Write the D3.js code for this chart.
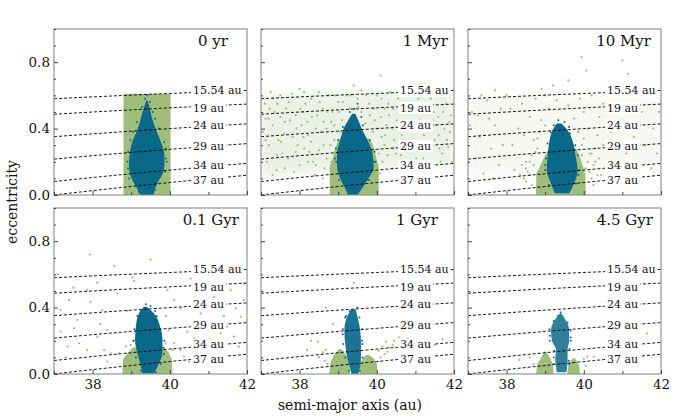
<!DOCTYPE html>
<html>
<head>
<meta charset="utf-8">
<script src="https://cdn.jsdelivr.net/npm/d3@7"></script>
<style>
  body { margin: 0; background: #fff; }
  text { font-family: "DejaVu Serif", serif; fill: #111; }
</style>
</head>
<body>
<svg id="chart" width="700" height="420"></svg>
<script>
// panel titles and perihelion lines (q = a(1-e))
var titles = ["0 yr", "1 Myr", "10 Myr", "0.1 Gyr", "1 Gyr", "4.5 Gyr"];
var perihelia = [15.54, 19, 24, 29, 34, 37];

var xTicksMajor = [38, 40, 42];
var xTicksMinor = [37, 39, 41];
var yTicksMajor = [0, 0.4, 0.8];
var yTicksMinor = [0.1, 0.2, 0.3, 0.5, 0.6, 0.7, 0.9, 1.0];

// dense cores, rows of [e, a_min, a_max]
var greenCore0yr  = [[[0, 38.8, 40.02], [0.61, 38.8, 40.02]]];
var greenCore1Myr = [[[0, 38.78, 40.05], [0.17, 38.78, 40.05], [0.21, 38.84, 40.0], [0.28, 38.92, 39.93], [0.34, 39.02, 39.82]]];
var greenCore10Myr = [[[0, 38.76, 40.05], [0.13, 38.77, 40.04], [0.17, 38.86, 39.98], [0.23, 38.98, 39.9], [0.28, 39.1, 39.8]]];
var greenCore01Gyr = [[[0, 38.77, 40.07], [0.09, 38.79, 40.05], [0.13, 38.92, 39.97], [0.16, 39.05, 39.85]]];
var greenCore1Gyr = [
  [[0, 38.77, 39.3], [0.07, 38.8, 39.28], [0.11, 38.88, 39.22], [0.14, 38.98, 39.12], [0.15, 39.03, 39.07]],
  [[0, 39.55, 40.02], [0.06, 39.57, 40.0], [0.09, 39.63, 39.93], [0.115, 39.72, 39.8]]
];
var greenCore45Gyr = [
  [[0, 38.76, 39.22], [0.06, 38.8, 39.2], [0.1, 38.9, 39.12], [0.135, 38.98, 39.02]],
  [[0, 39.57, 39.9], [0.05, 39.6, 39.88], [0.08, 39.66, 39.82], [0.095, 39.72, 39.76]]
];

var blueCore0yr = [[0, 39.23, 39.58], [0.04, 39.15, 39.62], [0.08, 39.05, 39.7], [0.12, 38.98, 39.8], [0.18, 38.94, 39.86],
  [0.24, 38.96, 39.86], [0.3, 39.0, 39.8], [0.36, 39.1, 39.7], [0.42, 39.2, 39.6], [0.48, 39.27, 39.52], [0.54, 39.35, 39.46], [0.57, 39.39, 39.42]];
var blueCore1Myr = [[0, 39.25, 39.5], [0.03, 39.2, 39.59], [0.09, 39.07, 39.76], [0.17, 38.97, 39.92], [0.25, 38.97, 39.89],
  [0.33, 39.05, 39.76], [0.41, 39.16, 39.59], [0.45, 39.26, 39.52], [0.49, 39.36, 39.44]];
var blueCore10Myr = [[0.01, 39.25, 39.62], [0.07, 39.15, 39.75], [0.15, 39.04, 39.84], [0.23, 39.06, 39.79], [0.31, 39.1, 39.73],
  [0.39, 39.19, 39.58], [0.43, 39.3, 39.42]];
var blueCore01Gyr = [[0.004, 39.29, 39.59], [0.064, 39.23, 39.72], [0.125, 39.16, 39.81], [0.205, 39.1, 39.81], [0.285, 39.12, 39.75],
  [0.365, 39.2, 39.59], [0.405, 39.33, 39.4]];
var blueCore1Gyr = [[0, 39.35, 39.52], [0.045, 39.29, 39.57], [0.105, 39.23, 39.59], [0.185, 39.18, 39.59], [0.265, 39.16, 39.57],
  [0.345, 39.23, 39.5], [0.39, 39.35, 39.45]];
var blueCore45Gyr = [[0.01, 39.3, 39.55], [0.045, 39.28, 39.57], [0.085, 39.26, 39.58], [0.145, 39.28, 39.58], [0.205, 39.17, 39.62],
  [0.265, 39.15, 39.62], [0.325, 39.25, 39.53], [0.365, 39.38, 39.42]];

// scattered (dispersed) region, bounds along a
var haloA = [37, 38, 39, 40, 41, 42];
var haloLow1Myr  = [0.11, 0.13, 0.15, 0.16, 0.17, 0.18];
var haloHigh1Myr = [0.6, 0.61, 0.62, 0.62, 0.62, 0.63];
var haloLow10Myr  = [0.11, 0.12, 0.13, 0.14, 0.16, 0.18];
var haloHigh10Myr = [0.58, 0.59, 0.6, 0.6, 0.6, 0.6];

// scattered points [a, e]
var greenDots0yr = [];
var greenDots1Myr = [[37.1,0.55],[37.3,0.42],[37.5,0.6],[37.2,0.3],[37.7,0.22],[37.4,0.15],[37.9,0.48],[38.1,0.35],[37.6,0.37],[38.3,0.58],
  [38.0,0.18],[38.5,0.27],[38.2,0.44],[38.6,0.52],[37.8,0.61],[38.4,0.12],[38.7,0.4],[37.15,0.2],[37.35,0.5],[37.55,0.25],
  [37.75,0.45],[37.95,0.3],[38.15,0.55],[38.35,0.2],[38.55,0.38],[38.75,0.6],[37.05,0.38],[37.25,0.62],[37.45,0.33],[37.65,0.52],
  [37.85,0.14],[38.05,0.42],[38.25,0.26],[38.45,0.48],[38.65,0.16],[38.85,0.5],[38.9,0.33],[39.0,0.56],[39.1,0.45],[39.2,0.6],
  [39.3,0.52],[39.5,0.58],[39.6,0.5],[39.7,0.43],[39.8,0.55],[39.9,0.38],[40.0,0.6],[40.1,0.47],[40.2,0.3],[40.15,0.2],
  [40.3,0.55],[40.4,0.4],[40.5,0.25],[40.35,0.62],[40.45,0.33],[40.6,0.5],[40.7,0.2],[40.8,0.44],[40.9,0.6],[41.0,0.3],
  [41.1,0.52],[41.2,0.22],[41.3,0.41],[41.4,0.58],[41.5,0.33],[41.6,0.47],[41.7,0.25],[41.8,0.55],[41.9,0.38],[41.95,0.2],
  [40.25,0.42],[40.55,0.58],[40.65,0.36],[40.85,0.27],[40.95,0.5],[41.05,0.4],[41.15,0.62],[41.25,0.31],[41.35,0.18],[41.45,0.45],
  [41.55,0.6],[41.65,0.2],[41.75,0.4],[41.85,0.29],[40.05,0.25],[40.12,0.35],[39.95,0.45],[40.2,0.52],[38.95,0.25],[38.8,0.3],
  [38.7,0.22],[38.9,0.42],[39.05,0.38],[39.85,0.3],[39.98,0.18],[40.08,0.13],[38.6,0.1],[37.3,0.12],[37.9,0.26],[38.3,0.32],
  [37.5,0.47],[37.2,0.46],[38.1,0.5],[38.5,0.62],[40.4,0.16],[40.75,0.55],[41.35,0.52],[41.9,0.6],[41.6,0.36],[39.4,0.66],
  [40.1,0.72],[39.6,0.63],[38.0,0.64],[41.0,0.65],
  [37.12,0.33],[37.22,0.52],[37.42,0.24],[37.62,0.44],[37.82,0.35],[38.02,0.52],[38.22,0.2],[38.42,0.4],[38.62,0.3],[38.82,0.44],
  [37.32,0.58],[37.72,0.56],[38.12,0.62],[38.52,0.56],[38.92,0.6],[39.12,0.56],[39.32,0.6],[39.52,0.53],[39.72,0.6],[39.92,0.52],
  [40.12,0.58],[40.32,0.48],[40.52,0.45],[40.72,0.3],[40.92,0.4],[41.12,0.45],[41.32,0.6],[41.52,0.42],[41.72,0.5],[41.92,0.48],
  [40.42,0.28],[40.62,0.24],[40.82,0.18],[41.02,0.22],[41.22,0.36],[41.42,0.27],[41.62,0.28],[41.82,0.33],[40.22,0.36],[40.02,0.4],
  [38.72,0.5],[38.32,0.47],[37.92,0.4],[37.52,0.32],[37.12,0.46],[37.62,0.16],[38.12,0.28],[38.42,0.18],[38.82,0.2],[40.28,0.24],
  [40.58,0.4],[41.08,0.58],[41.48,0.5],[41.88,0.44],[37.42,0.55],[38.22,0.36],[38.62,0.44],[39.02,0.5],[39.82,0.48],[40.42,0.52]];
var greenDots10Myr = [[37.1,0.5],[37.3,0.35],[37.5,0.57],[37.2,0.22],[37.7,0.42],[37.4,0.13],[37.9,0.3],[38.1,0.52],[37.6,0.28],[38.3,0.4],
  [38.0,0.6],[38.5,0.2],[38.2,0.15],[38.6,0.47],[37.8,0.18],[38.4,0.55],[38.7,0.33],[37.05,0.42],[37.35,0.6],[37.55,0.46],
  [37.85,0.52],[38.15,0.3],[38.45,0.36],[38.75,0.58],[38.9,0.45],[39.0,0.6],[39.1,0.52],[39.3,0.57],[39.6,0.54],[39.75,0.46],
  [39.9,0.58],[40.0,0.5],[40.1,0.4],[40.2,0.6],[40.3,0.28],[40.4,0.47],[40.5,0.55],[40.6,0.2],[40.7,0.38],[40.8,0.6],
  [40.9,0.3],[41.0,0.45],[41.1,0.25],[41.2,0.55],[41.3,0.35],[41.4,0.2],[41.5,0.5],[41.6,0.3],[41.7,0.6],[41.8,0.4],
  [41.9,0.25],[41.95,0.5],[40.25,0.18],[40.45,0.12],[40.15,0.25],[40.35,0.36],[38.6,0.12],[38.5,0.08],[38.4,0.18],[38.65,0.24],
  [40.05,0.16],[40.2,0.1],[40.5,0.3],[39.95,0.3],[38.8,0.28],[38.85,0.38],[39.0,0.42],[39.85,0.38],[41.25,0.42],[41.75,0.16],
  [37.25,0.48],[37.65,0.1],[39.94,0.83],[41.0,0.81],[40.07,0.75],[41.15,0.73],[39.6,0.69],[39.2,0.66],[38.9,0.64],[40.6,0.65],
  [37.7,0.63],[38.55,0.14],[38.7,0.18],[40.15,0.14],[40.3,0.2],[38.45,0.1],[40.4,0.22],
  [38.5,0.16],[38.6,0.2],[38.65,0.06],[40.1,0.2],[40.2,0.25],[40.25,0.06],[40.35,0.12],[38.35,0.12],[38.75,0.26],[39.95,0.24],
  [40.0,0.34],[38.8,0.34]];
var greenDots01Gyr = [[37.93,0.72],[38.57,0.65],[39.5,0.69],[39.03,0.58],[39.07,0.56],[38.12,0.55],[37.17,0.255],[37.35,0.165],[37.65,0.185],[37.52,0.275],
  [37.86,0.145],[38.12,0.225],[38.3,0.145],[38.47,0.125],[37.39,0.445],[37.6,0.325],[37.95,0.435],[38.25,0.385],[38.64,0.485],[37.17,0.385],
  [37.86,0.505],[38.38,0.265],[39.94,0.505],[40.11,0.445],[40.28,0.395],[40.45,0.255],[40.63,0.215],[40.89,0.265],[41.06,0.205],[41.32,0.245],
  [41.49,0.285],[41.66,0.225],[41.84,0.345],[41.92,0.445],[41.58,0.505],[41.71,0.395],[41.32,0.165],[40.71,0.145],[40.28,0.145],[40.11,0.185],
  [39.98,0.265],[40.97,0.325],[41.15,0.465],[40.54,0.575],[41.92,0.545],[41.79,0.165],[40.8,0.365],[38.86,0.165],[38.68,0.125],[38.99,0.175],
  [39.89,0.185],[40.07,0.145],[39.76,0.205],[38.38,0.075],[40.37,0.105],[40.5,0.075],[37.1,0.6],[37.5,0.52],[38.9,0.38],[39.9,0.35],
  [40.6,0.32],[41.4,0.35],[41.0,0.12],[37.3,0.1],[38.2,0.3]];
var greenDots1Gyr = [[39.4,0.55],[38.68,0.4],[38.86,0.3],[38.47,0.195],[38.19,0.145],[40.58,0.22],[41.7,0.21],[41.5,0.175],[40.3,0.16],[40.24,0.195],
  [40.41,0.175],[40.15,0.165],[40.28,0.135],[40.45,0.2],[40.65,0.16],[38.6,0.13],[38.68,0.145],[38.65,0.08],[40.1,0.1],[40.2,0.12],
  [38.5,0.1],[40.8,0.21],[38.3,0.2],[40.05,0.14],[38.72,0.06]];
var greenDots45Gyr = [[41.64,0.245],[38.33,0.085],[40.09,0.105],[40.26,0.105],[40.0,0.09],[38.6,0.1],[38.7,0.06],[40.05,0.05]];

var blueDots0yr = [[39.42,0.6],[39.36,0.58],[39.48,0.56],[39.28,0.53],[39.56,0.5],[38.92,0.26],[39.9,0.22],[39.88,0.14],[38.95,0.1],
  [38.9,0.2],[38.92,0.16],[39.92,0.2],[39.9,0.28],[39.85,0.32],[38.98,0.33],[39.05,0.38],[39.72,0.4],[39.15,0.44],[39.62,0.46],
  [39.2,0.02],[39.62,0.03]];
var blueDots1Myr = [[39.5,0.55],[39.42,0.52],[39.3,0.5],[38.95,0.2],[39.94,0.2],[39.6,0.47],
  [38.92,0.22],[38.94,0.28],[39.97,0.2],[39.94,0.26],[39.0,0.33],[39.82,0.33],[39.12,0.41],[39.64,0.42],[39.02,0.09],[39.8,0.09]];
var blueDots10Myr = [[39.34,0.45],[39.5,0.44],[39.22,0.42],[39.0,0.18],[39.86,0.12],[39.62,0.41],
  [39.0,0.15],[39.02,0.22],[39.88,0.15],[39.84,0.24],[39.06,0.31],[39.78,0.3],[39.14,0.38],[39.64,0.37],[39.1,0.06],[39.8,0.07]];
var blueDots01Gyr = [[39.38,0.42],[39.5,0.41],[39.25,0.38],[39.06,0.2],[39.84,0.16],[39.62,0.38],
  [39.06,0.2],[39.08,0.27],[39.86,0.2],[39.85,0.12],[39.16,0.35],[39.66,0.35],[39.12,0.1],[39.77,0.06],[39.25,0.02],[39.64,0.01]];
var blueDots1Gyr = [[39.5,0.4],[39.3,0.38],[39.12,0.24],[39.62,0.2],[39.2,0.35],
  [39.13,0.18],[39.12,0.27],[39.63,0.18],[39.62,0.27],[39.18,0.34],[39.55,0.34],[39.19,0.1],[39.63,0.1],[39.28,0.02],[39.56,0.02]];
var blueDots45Gyr = [[39.4,0.37],[39.33,0.35],[39.12,0.23],[39.66,0.22],[39.22,0.1],[39.62,0.06],
  [39.12,0.2],[39.11,0.27],[39.66,0.26],[39.66,0.2],[39.22,0.32],[39.58,0.31],[39.23,0.14],[39.63,0.15],[39.22,0.06],[39.61,0.08]];

var greenCores = [greenCore0yr, greenCore1Myr, greenCore10Myr, greenCore01Gyr, greenCore1Gyr, greenCore45Gyr];
var blueCores = [blueCore0yr, blueCore1Myr, blueCore10Myr, blueCore01Gyr, blueCore1Gyr, blueCore45Gyr];
var greenDots = [greenDots0yr, greenDots1Myr, greenDots10Myr, greenDots01Gyr, greenDots1Gyr, greenDots45Gyr];
var blueDots = [blueDots0yr, blueDots1Myr, blueDots10Myr, blueDots01Gyr, blueDots1Gyr, blueDots45Gyr];
var haloLows = [null, haloLow1Myr, haloLow10Myr, null, null, null];
var haloHighs = [null, haloHigh1Myr, haloHigh10Myr, null, null, null];

// styling / layout constants
var haloOpacity = [0, 0.2, 0.09, 0, 0, 0];
var blueOpacity = [1, 1, 1, 1, 0.92, 0.85];
var labelA = 40.6;                                  // left edge of the line labels
var labelE = [0.628, 0.524, 0.418, 0.295, 0.176, 0.09]; // vertical centre of each label
var titleRight = [19, 6, 10, 8, 16, 8];             // title inset from panel's right edge

var green = "#9fbd7b";
var blue = "#0a6889";

var panelW = 193, panelH = 166;
var left0 = 54, top0 = 29, gapX = 14, gapY = 13;

var svg = d3.select("#chart");

var defs = svg.append("defs");
defs.append("filter").attr("id", "soft")
  .attr("x", "-20%").attr("y", "-20%").attr("width", "140%").attr("height", "140%")
  .append("feGaussianBlur").attr("stdDeviation", 4);

var x = d3.scaleLinear().domain([37, 42]).range([0, panelW]);
var y = d3.scaleLinear().domain([0, 1]).range([panelH, 0]);

var blueArea = d3.area()
  .y(d => y(d[0]))
  .x0(d => x(d[1]))
  .x1(d => x(d[2]))
  .curve(d3.curveMonotoneY);

var greenArea = d3.area()
  .y(d => y(d[0]))
  .x0(d => x(d[1]))
  .x1(d => x(d[2]));

var haloArea = d3.area()
  .x(d => x(d[0]))
  .y0(d => y(d[1]))
  .y1(d => y(d[2]))
  .curve(d3.curveMonotoneX);

titles.forEach(function(title, i) {
  var col = i % 3, row = Math.floor(i / 3);
  var g = svg.append("g")
    .attr("transform", `translate(${left0 + col * (panelW + gapX)}, ${top0 + row * (panelH + gapY)})`);

  g.append("clipPath").attr("id", "clip" + i)
    .append("rect").attr("width", panelW).attr("height", panelH);

  var plot = g.append("g").attr("clip-path", `url(#clip${i})`);

  // dispersed region tint
  if (haloLows[i]) {
    var rows = haloA.map((a, k) => [a, haloLows[i][k], haloHighs[i][k]]);
    plot.append("path")
      .attr("d", haloArea(rows))
      .attr("fill", green)
      .attr("opacity", haloOpacity[i])
      .attr("filter", "url(#soft)");
  }

  plot.selectAll(".gdot")
    .data(greenDots[i])
    .enter()
    .append("circle")
    .attr("cx", d => x(d[0]))
    .attr("cy", d => y(d[1]))
    .attr("r", 1.1)
    .attr("fill", green);

  greenCores[i].forEach(function(shape) {
    plot.append("path")
      .attr("d", greenArea(shape))
      .attr("fill", green);
  });

  plot.append("path")
    .attr("d", blueArea(blueCores[i]))
    .attr("fill", blue)
    .attr("opacity", blueOpacity[i]);

  plot.selectAll(".bdot")
    .data(blueDots[i])
    .enter()
    .append("circle")
    .attr("cx", d => x(d[0]))
    .attr("cy", d => y(d[1]))
    .attr("r", 1.0)
    .attr("fill", blue);

  // constant perihelion lines
  var aSamples = d3.range(37, 42.01, 0.25);
  var line = d3.line().x(d => x(d[0])).y(d => y(d[1]));
  perihelia.forEach(function(q) {
    plot.append("path")
      .attr("d", line(aSamples.map(a => [a, 1 - q / a])))
      .attr("fill", "none")
      .attr("stroke", "#000")
      .attr("stroke-width", 0.9)
      .attr("stroke-dasharray", "3,2");
  });

  perihelia.forEach(function(q, k) {
    var lab = plot.append("g");
    var box = lab.append("rect").attr("fill", "#fff");
    var yy = y(labelE[k]);
    var t = lab.append("text")
      .attr("x", x(labelA))
      .attr("y", yy)
      .attr("font-size", "11px")
      .attr("dominant-baseline", "central")
      .text(q + " au");
    var w = t.node().getComputedTextLength();
    box.attr("x", x(labelA) - 2).attr("y", yy - 6).attr("width", w + 4).attr("height", 12);
  });

  // frame
  g.append("rect")
    .attr("width", panelW).attr("height", panelH)
    .attr("fill", "none")
    .attr("stroke", "#8a8a8a")
    .attr("stroke-width", 1.1);

  // ticks (inward)
  var xMajor = g.append("g")
    .attr("transform", `translate(0, ${panelH})`)
    .call(d3.axisBottom(x).tickValues(xTicksMajor).tickSize(-4).tickPadding(5)
      .tickFormat(row === 1 ? d3.format("d") : () => ""));
  var xMinor = g.append("g")
    .attr("transform", `translate(0, ${panelH})`)
    .call(d3.axisBottom(x).tickValues(xTicksMinor).tickSize(-3).tickFormat(() => ""));
  var yMajor = g.append("g")
    .call(d3.axisLeft(y).tickValues(yTicksMajor).tickSize(-4).tickPadding(4)
      .tickFormat(col === 0 ? d3.format(".1f") : () => ""));
  var yMinor = g.append("g")
    .call(d3.axisLeft(y).tickValues(yTicksMinor).tickSize(-2).tickFormat(() => ""));

  [xMajor, xMinor, yMajor, yMinor].forEach(function(ax) {
    ax.select(".domain").remove();
    ax.selectAll(".tick line").attr("stroke", "#333").attr("stroke-width", 0.9);
    ax.selectAll(".tick text")
      .attr("font-family", "DejaVu Serif")
      .attr("font-size", "13.5px")
      .attr("fill", "#111");
  });

  g.append("text")
    .attr("x", panelW - titleRight[i])
    .attr("y", 17)
    .attr("text-anchor", "end")
    .attr("font-size", "15px")
    .text(title);
});

svg.append("text")
  .attr("x", 350)
  .attr("y", 410)
  .attr("text-anchor", "middle")
  .attr("font-size", "14px")
  .text("semi-major axis (au)");

svg.append("text")
  .attr("transform", "translate(17, 202) rotate(-90)")
  .attr("text-anchor", "middle")
  .attr("font-size", "14px")
  .text("eccentricity");
</script>
</body>
</html>
